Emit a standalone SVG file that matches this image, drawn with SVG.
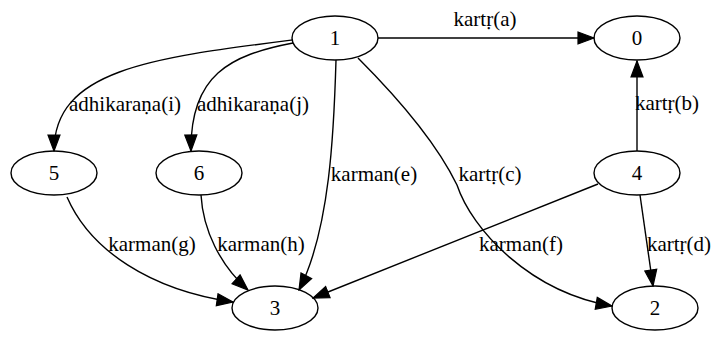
<svg xmlns="http://www.w3.org/2000/svg" width="711" height="342" viewBox="0 0 711 342">
<style>
.n ellipse{fill:none;stroke:#000;stroke-width:1.4}
text{font-family:"Liberation Serif","Times New Roman",serif;font-size:21px;fill:#000;text-anchor:middle}
.e path{fill:none;stroke:#000;stroke-width:1.4;marker-end:url(#ah)}
</style>
<defs>
<marker id="ah" markerUnits="userSpaceOnUse" markerWidth="18" markerHeight="14" viewBox="0 0 18 14" refX="17" refY="7" orient="auto">
<path d="M1,1 L17,7 L1,13 Z" fill="#000" stroke="#000" stroke-width="1.2"/>
</marker>
</defs>
<rect width="711" height="342" fill="#fff"/>
<g id="edges" class="e">
<path d="M378,38 L594,38"/>
<path d="M292,40 C150,58 54,70 54,151"/>
<path d="M293,43 C230,55 190,75 191,151"/>
<path d="M336,60 C334,130 330,230 299,290"/>
<path d="M358,58 C410,110 440,150 457,185 C472,230 530,292 612,306"/>
<path d="M637,151 L637,61"/>
<path d="M598,184 L313,298"/>
<path d="M640,195 L653,286"/>
<path d="M67,197 C90,250 150,290 233,302"/>
<path d="M201,195 C203,230 220,265 248,290"/>
</g>
<g id="labels">
<text x="485" y="26">kartṛ(a)</text>
<text x="125" y="111">adhikaraṇa(i)</text>
<text x="253" y="111">adhikaraṇa(j)</text>
<text x="374" y="181">karman(e)</text>
<text x="490" y="181">kartṛ(c)</text>
<text x="667" y="110">kartṛ(b)</text>
<text x="521" y="251">karman(f)</text>
<text x="679" y="251">kartṛ(d)</text>
<text x="152" y="251">karman(g)</text>
<text x="261" y="251">karman(h)</text>
</g>
<g id="node1" class="n"><ellipse cx="335" cy="38" rx="43" ry="22"/><text x="335" y="45">1</text></g>
<g id="node0" class="n"><ellipse cx="637" cy="38" rx="43" ry="22"/><text x="637" y="45">0</text></g>
<g id="node5" class="n"><ellipse cx="54" cy="173" rx="43" ry="22"/><text x="54" y="180">5</text></g>
<g id="node6" class="n"><ellipse cx="199" cy="173" rx="43" ry="22"/><text x="199" y="180">6</text></g>
<g id="node4" class="n"><ellipse cx="637" cy="173" rx="43" ry="22"/><text x="637" y="180">4</text></g>
<g id="node3" class="n"><ellipse cx="275" cy="308" rx="43" ry="22"/><text x="275" y="315">3</text></g>
<g id="node2" class="n"><ellipse cx="655" cy="308" rx="43" ry="22"/><text x="655" y="315">2</text></g>
</svg>
